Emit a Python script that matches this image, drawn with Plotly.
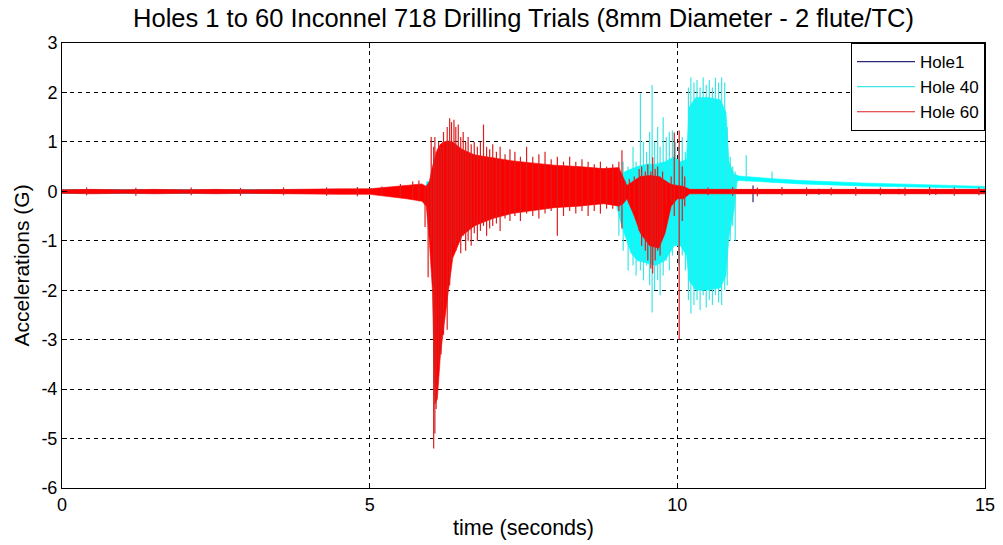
import plotly.graph_objects as go

# ---------------- data ----------------
title_text = "Holes 1 to 60 Inconnel 718 Drilling Trials (8mm Diameter - 2 flute/TC)"
series_names = ["Hole1", "Hole 40", "Hole 60"]
x_ticks = [0, 5, 10, 15]
x_tick_labels = ["0", "5", "10", "15"]
y_ticks = [-6, -5, -4, -3, -2, -1, 0, 1, 2, 3]
y_tick_labels = ["-6", "-5", "-4", "-3", "-2", "-1", "0", "1", "2", "3"]

# Hole1 : core band (time, upper, lower) and isolated spikes
h1_t = [0, 2, 4, 6, 8, 10, 11, 12, 13, 14, 15]
h1_hi = [0.03, 0.03, 0.03, 0.04, 0.04, 0.04, 0.04, 0.03, 0.03, 0.03, 0.03]
h1_lo = [-0.04, -0.04, -0.04, -0.05, -0.05, -0.05, -0.05, -0.04, -0.04, -0.04, -0.04]
h1_spk_t = [10.9, 11.23, 12.3, 13.6, 14.2]
h1_spk_hi = [0.06, 0.12, 0.05, 0.05, 0.05]
h1_spk_lo = [-0.08, -0.22, -0.07, -0.06, -0.07]

# Hole 40
h40_t = [0, 3, 5.9, 5.93, 5.97, 6.0, 7, 8, 9.0, 9.05, 9.15, 9.25, 9.35, 9.5, 9.65, 9.8,
         9.95, 10.05, 10.15, 10.19, 10.3, 10.5, 10.7, 10.79, 10.84, 10.92, 10.97, 11.0,
         11.5, 12, 13, 14, 15]
h40_hi = [0.03, 0.03, 0.05, 0.2, 0.2, 0.1, 0.2, 0.2, 0.2, 0.3, 0.4, 0.45, 0.5, 0.55, 0.55, 0.6,
          0.7, 0.6, 0.65, 1.7, 1.9, 1.9, 1.85, 1.6, 0.6, 0.35, 0.32, 0.31,
          0.26, 0.22, 0.17, 0.13, 0.1]
h40_lo = [-0.04, -0.04, -0.05, -0.2, -0.2, -0.1, -0.2, -0.2, -0.2, -0.5, -0.9, -1.25, -1.4, -1.45, -1.5, -1.4,
          -1.1, -1.1, -1.3, -1.8, -2.0, -2.0, -1.95, -1.7, -0.9, -0.4, 0.2, 0.22,
          0.18, 0.15, 0.11, 0.08, 0.06]
h40_spk_t = [9.05, 9.12, 9.2, 9.28, 9.33, 9.4, 9.45, 9.5, 9.55, 9.59, 9.63, 9.68, 9.72,
             9.77, 9.82, 9.87, 9.92, 9.97, 10.02, 10.08, 10.13, 10.18, 10.22, 10.27, 10.32,
             10.37, 10.42, 10.47, 10.52, 10.57, 10.62, 10.67, 10.72, 10.77, 10.81, 10.86,
             10.9, 10.94, 11.12, 11.54]
h40_spk_hi = [0.4, 0.6, 0.5, 0.9, 0.6, 1.98, 1.0, 0.8, 1.2, 2.15, 1.0, 1.3, 0.9,
              1.5, 1.1, 1.2, 1.23, 1.0, 0.9, 1.1, 0.8, 2.1, 2.3, 2.2, 2.25,
              2.1, 2.3, 2.15, 2.25, 2.1, 2.3, 2.2, 2.3, 2.2, 1.3, 0.7,
              0.5, 0.4, 0.73, 0.4]
h40_spk_lo = [-0.9, -1.2, -1.6, -1.5, -1.7, -1.6, -1.8, -1.5, -1.9, -2.45, -2.0, -1.8, -2.1,
              -1.7, -1.4, -1.6, -1.3, -1.1, -1.5, -1.3, -1.6, -2.2, -2.47, -2.3, -2.2,
              -2.4, -2.1, -2.35, -2.2, -2.3, -2.1, -2.25, -2.3, -2.0, -1.9, -1.0,
              -0.7, -1.0, 0.2, 0.18]

# Hole 60
h60_t = [0, 0.5, 1, 1.5, 2, 2.5, 3, 3.5, 4, 4.5, 5, 5.3, 5.6, 5.85, 5.92, 5.97, 6.02,
         6.06, 6.1, 6.15, 6.2, 6.27, 6.35, 6.5, 6.7, 7.0, 7.3, 7.6, 8.0, 8.4, 8.8, 9.05,
         9.12, 9.18, 9.3, 9.4, 9.55, 9.7, 9.8, 9.9, 10.0, 10.1, 10.2, 10.5, 11, 12, 13,
         14, 15]
h60_hi = [0.03, 0.04, 0.03, 0.04, 0.03, 0.04, 0.03, 0.04, 0.04, 0.05, 0.05, 0.08, 0.12,
          0.15, 0.1, 0.2, 0.5, 0.7, 0.85, 0.95, 1.0, 1.02, 1.0, 0.85, 0.74, 0.68, 0.62,
          0.58, 0.53, 0.5, 0.46, 0.48, 0.3, 0.12, 0.22, 0.3, 0.32, 0.3, 0.22, 0.14,
          0.12, 0.1, 0.04, 0.04, 0.04, 0.04, 0.04, 0.04, 0.04]
h60_lo = [-0.04, -0.05, -0.04, -0.05, -0.04, -0.05, -0.04, -0.05, -0.05, -0.06, -0.06,
          -0.1, -0.15, -0.2, -0.3, -1.0, -2.0, -4.3, -4.2, -3.3, -2.8, -2.1, -1.35, -0.9,
          -0.7, -0.55, -0.45, -0.4, -0.33, -0.3, -0.25, -0.3, -0.25, -0.15, -0.5, -0.85,
          -1.1, -1.15, -0.85, -0.3, -0.15, -0.15, -0.05, -0.05, -0.05, -0.05, -0.05,
          -0.05, -0.05]
h60_spk_t = [0.4, 1.2, 2.1, 2.9, 3.6, 4.3, 4.8, 5.2, 5.5, 5.7, 5.8, 5.9, 5.95, 6.0, 6.04,
             6.06, 6.08, 6.12, 6.16, 6.2, 6.26, 6.3, 6.33, 6.37, 6.4, 6.44, 6.48, 6.52,
             6.56, 6.6, 6.65, 6.7, 6.75, 6.8, 6.85, 6.9, 6.95, 7.0, 7.06, 7.12, 7.2, 7.28,
             7.36, 7.45, 7.55, 7.65, 7.75, 7.85, 7.95, 8.05, 8.15, 8.25, 8.35, 8.45, 8.55,
             8.65, 8.75, 8.85, 8.95, 9.05, 9.1, 9.15, 9.22, 9.3, 9.38, 9.42, 9.48, 9.52,
             9.57, 9.6, 9.64, 9.68, 9.72, 9.76, 9.82, 9.9, 9.95, 10.03, 10.08, 10.12,
             10.5, 10.9, 11.3, 11.7, 12.1, 12.5, 12.9, 13.3, 13.7, 14.1, 14.5, 14.9]
h60_spk_hi = [0.08, 0.07, 0.08, 0.07, 0.08, 0.08, 0.09, 0.1, 0.15, 0.2, 0.22, 0.1, 0.15,
              1.1, 0.9, 1.1, 0.8, 1.0, 0.9, 1.2, 1.3, 1.48, 1.4, 1.45, 1.3, 1.35, 1.1,
              1.2, 1.0, 1.1, 0.95, 1.0, 0.9, 1.0, 1.35, 0.9, 0.85, 0.95, 0.8, 0.9, 0.75,
              0.85, 0.8, 0.7, 0.9, 0.7, 0.75, 0.8, 0.65, 0.7, 0.6, 0.7, 0.6, 0.65, 0.6,
              0.55, 0.6, 0.5, 0.55, 0.6, 0.83, 0.2, 0.25, 0.3, 0.45, 0.5, 0.4, 0.55,
              0.4, 0.69, 0.45, 0.5, 0.3, 0.4, 0.2, 0.3, 1.19, 1.23, 0.5, 0.3,
              0.08, 0.09, 0.08, 0.09, 0.08, 0.08, 0.09, 0.08, 0.08, 0.09, 0.08, 0.08]
h60_spk_lo = [-0.08, -0.09, -0.08, -0.09, -0.08, -0.09, -0.1, -0.08, -0.12, -0.15, -0.2,
              -0.72, -1.74, -1.0, -5.2, -4.9, -4.4, -3.5, -3.3, -2.9, -2.8, -1.9, -1.4,
              -1.1, -1.2, -1.0, -1.25, -0.9, -1.2, -1.0, -1.1, -0.85, -1.0, -0.8, -0.7,
              -0.9, -0.75, -0.7, -0.65, -0.8, -0.55, -0.6, -0.5, -0.6, -0.45, -0.5, -0.55,
              -0.45, -0.4, -0.9, -0.5, -0.4, -0.45, -0.4, -0.5, -0.4, -0.45, -0.35, -0.35,
              -0.4, -0.75, -0.2, -0.25, -0.4, -0.8, -1.1, -1.2, -1.4, -1.56, -1.66, -1.4,
              -1.2, -1.3, -0.9, -0.3, -0.2, -0.5, -3.0, -0.6, -0.3,
              -0.08, -0.09, -0.1, -0.08, -0.09, -0.08, -0.09, -0.08, -0.09, -0.08, -0.09,
              -0.08]

colors_fill = ["#1c1c6a", "#00ffff", "#ff0000"]
colors_line = ["#2a2a78", "#3ce6e6", "#d82020"]

# ---------------- figure ----------------
fig = go.Figure()

datasets = [
    (h1_t, h1_hi, h1_lo, h1_spk_t, h1_spk_hi, h1_spk_lo),
    (h40_t, h40_hi, h40_lo, h40_spk_t, h40_spk_hi, h40_spk_lo),
    (h60_t, h60_hi, h60_lo, h60_spk_t, h60_spk_hi, h60_spk_lo),
]

for i, (t, hi, lo, st, shi, slo) in enumerate(datasets):
    name = series_names[i]
    fig.add_trace(go.Scatter(
        x=list(t) + list(t)[::-1], y=list(hi) + list(lo)[::-1],
        mode="lines", fill="toself", fillcolor=colors_fill[i],
        line=dict(color=colors_fill[i], width=0.6),
        legendgroup=name, showlegend=False, hoverinfo="skip"))
    sx, sy = [], []
    for tt, a, b in zip(st, shi, slo):
        sx += [tt, tt, None]
        sy += [b, a, None]
    fig.add_trace(go.Scatter(
        x=sx, y=sy, mode="lines", name=name, legendgroup=name,
        line=dict(color=colors_line[i], width=1.2)))

axis_common = dict(
    showline=True, linecolor="black", linewidth=1, mirror="ticks",
    ticks="inside", ticklen=5, tickcolor="black",
    showgrid=True, gridcolor="black", gridwidth=1, griddash="4px,4px",
    zeroline=False, tickfont=dict(size=18, color="black"),
)

fig.update_xaxes(range=[0, 15], tickvals=x_ticks, ticktext=x_tick_labels, **axis_common,
                 title=dict(text="time (seconds)", font=dict(size=21.5, color="black"), standoff=6))
fig.update_yaxes(range=[-6, 3], tickvals=y_ticks, ticktext=y_tick_labels, **axis_common,
                 title=dict(text="Accelerations (G)", font=dict(size=21, color="black"), standoff=6))

fig.update_layout(
    width=1003, height=545,
    margin=dict(l=62, r=18, t=43, b=57, autoexpand=False),
    paper_bgcolor="white", plot_bgcolor="white",
    font=dict(family="Liberation Sans, Arial, sans-serif", color="black"),
    title=dict(text=title_text, x=0.5, xref="paper", xanchor="center",
               y=0.967, yanchor="middle", font=dict(size=25.5, color="black")),
    legend=dict(x=1, xanchor="right", y=1, yanchor="top", bgcolor="white",
                bordercolor="black", borderwidth=1, font=dict(size=17, color="black"),
                tracegroupgap=0, itemwidth=58),
    showlegend=True,
)

# remove the page's default 8px body margin so the figure sits at the window corner
fig.write_html("out.html", config={"displayModeBar": False},
               post_script="document.body.style.margin='0';document.body.style.padding='0';")
